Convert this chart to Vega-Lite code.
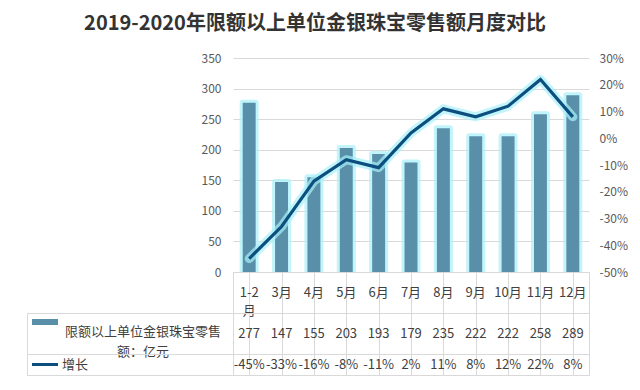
{
  "$schema": "https://vega.github.io/schema/vega-lite/v6.json",
  "background": "white",
  "padding": {"left": 26, "top": 14, "right": 5, "bottom": 5},
  "title": {"text": "2019-2020年限额以上单位金银珠宝零售额月度对比", "fontSize": 20, "fontWeight": "bold", "color": "#333333", "anchor": "middle", "offset": 18, "dx": -12, "font": "Noto Sans CJK SC"},
  "config": {
    "font": "Noto Sans CJK SC",
    "locale": {"number": {"decimal": ".", "thousands": ",", "grouping": [3], "currency": ["$", ""], "minus": "-"}}
  },
  "datasets": {
    "d": [
      {"m": "1-2月", "v": 277, "g": -0.45},
      {"m": "3月", "v": 147, "g": -0.33},
      {"m": "4月", "v": 155, "g": -0.16},
      {"m": "5月", "v": 203, "g": -0.08},
      {"m": "6月", "v": 193, "g": -0.11},
      {"m": "7月", "v": 179, "g": 0.02},
      {"m": "8月", "v": 235, "g": 0.11},
      {"m": "9月", "v": 222, "g": 0.08},
      {"m": "10月", "v": 222, "g": 0.12},
      {"m": "11月", "v": 258, "g": 0.22},
      {"m": "12月", "v": 289, "g": 0.08}
    ]
  },
  "columns": 2,
  "spacing": 0,
  "bounds": "flush",
  "align": "each",
  "concat": [
    {
      "width": 206, "height": 214, "view": {"stroke": null},
      "data": {"values": [{}]},
      "mark": {"type": "text", "text": ""}
    },
    {
      "width": 356, "height": 214, "view": {"stroke": null},
      "data": {"name": "d"},
      "encoding": {
        "x": {"field": "m", "type": "nominal", "sort": null, "scale": {"paddingInner": 0, "paddingOuter": 0}, "axis": null}
      },
      "layer": [
        {
          "encoding": {
            "y": {"field": "v", "type": "quantitative", "scale": {"domain": [0, 350], "nice": false},
              "axis": {"values": [0, 50, 100, 150, 200, 250, 300, 350], "title": null, "domain": false, "ticks": false, "labelPadding": 12, "labelColor": "#595959", "labelFontSize": 12, "grid": true, "gridColor": "#d9d9d9"}}
          },
          "layer": [
            {"mark": {"type": "bar", "width": {"band": 0.4}, "fill": "#b2f2fb", "stroke": "#b2f2fb", "strokeWidth": 6, "strokeJoin": "round", "opacity": 0.8, "clip": true}},
            {"mark": {"type": "bar", "width": {"band": 0.4}, "fill": "#5a8fa9"}}
          ]
        },
        {
          "encoding": {
            "y": {"field": "g", "type": "quantitative", "scale": {"domain": [-0.5, 0.3], "nice": false, "zero": false},
              "axis": {"orient": "right", "values": [-0.5, -0.4, -0.3, -0.2, -0.1, 0, 0.1, 0.2, 0.3], "format": ".0%", "title": null, "domain": false, "ticks": false, "grid": false, "labelPadding": 10, "labelColor": "#595959", "labelFontSize": 12}}
          },
          "layer": [
            {"mark": {"type": "line", "stroke": "#a6f0f9", "strokeWidth": 9, "opacity": 0.7, "strokeJoin": "round", "strokeCap": "round"}},
            {"mark": {"type": "line", "stroke": "#0c4f7f", "strokeWidth": 3.2, "strokeJoin": "miter"}}
          ]
        }
      ],
      "resolve": {"scale": {"y": "independent"}}
    },
    {
      "width": 206, "height": 41, "view": {"stroke": null},
      "data": {"values": [{}]},
      "mark": {"type": "text", "text": ""}
    },
    {
      "width": 356, "height": 41, "view": {"stroke": "#d9d9d9"},
      "data": {"name": "d"},
      "transform": [{"calculate": "replace(datum.m, '-2', '-2\\n')", "as": "lbl"}],
      "mark": {"type": "text", "lineBreak": "\n", "lineHeight": 18, "fontSize": 13, "color": "#404040"},
      "encoding": {
        "x": {"field": "m", "type": "nominal", "sort": null, "scale": {"paddingInner": 0, "paddingOuter": 0},
          "axis": {"grid": true, "bandPosition": 0, "labels": false, "ticks": false, "domain": false, "title": null, "gridColor": "#d9d9d9"}},
        "text": {"field": "lbl"}
      }
    },
    {
      "width": 206, "height": 41, "view": {"stroke": "#d9d9d9"},
      "data": {"values": [{}]},
      "layer": [
        {
          "mark": {"type": "rule", "color": "#5a8fa9", "strokeWidth": 6, "strokeCap": "butt"},
          "encoding": {
            "x": {"datum": 5, "type": "quantitative", "scale": {"domain": [0, 206], "nice": false, "zero": false}, "axis": null},
            "x2": {"datum": 31},
            "y": {"datum": 9, "type": "quantitative", "scale": {"domain": [0, 41], "reverse": true, "nice": false}, "axis": null}
          }
        },
        {
          "mark": {"type": "text", "align": "center", "baseline": "middle", "lineHeight": 20, "fontSize": 13, "color": "#404040", "text": ["限额以上单位金银珠宝零售", "额：亿元"]},
          "encoding": {
            "x": {"datum": 116, "type": "quantitative", "scale": {"domain": [0, 206], "nice": false, "zero": false}, "axis": null},
            "y": {"datum": 19, "type": "quantitative", "scale": {"domain": [0, 41], "reverse": true, "nice": false}, "axis": null}
          }
        }
      ]
    },
    {
      "width": 356, "height": 41, "view": {"stroke": "#d9d9d9"},
      "data": {"name": "d"},
      "mark": {"type": "text", "fontSize": 13, "color": "#404040"},
      "encoding": {
        "x": {"field": "m", "type": "nominal", "sort": null, "scale": {"paddingInner": 0, "paddingOuter": 0},
          "axis": {"grid": true, "bandPosition": 0, "labels": false, "ticks": false, "domain": false, "title": null, "gridColor": "#d9d9d9"}},
        "text": {"field": "v", "type": "quantitative"}
      }
    },
    {
      "width": 206, "height": 21, "view": {"stroke": "#d9d9d9"},
      "data": {"values": [{}]},
      "layer": [
        {
          "mark": {"type": "rule", "color": "#0c4f7f", "strokeWidth": 3, "strokeCap": "butt"},
          "encoding": {
            "x": {"datum": 5, "type": "quantitative", "scale": {"domain": [0, 206], "nice": false, "zero": false}, "axis": null},
            "x2": {"datum": 31},
            "y": {"datum": 10.5, "type": "quantitative", "scale": {"domain": [0, 21], "reverse": true, "nice": false}, "axis": null}
          }
        },
        {
          "mark": {"type": "text", "align": "left", "baseline": "middle", "fontSize": 13, "color": "#404040", "text": "增长"},
          "encoding": {
            "x": {"datum": 35, "type": "quantitative", "scale": {"domain": [0, 206], "nice": false, "zero": false}, "axis": null},
            "y": {"datum": 10.5, "type": "quantitative", "scale": {"domain": [0, 21], "reverse": true, "nice": false}, "axis": null}
          }
        }
      ]
    },
    {
      "width": 356, "height": 21, "view": {"stroke": "#d9d9d9"},
      "data": {"name": "d"},
      "mark": {"type": "text", "fontSize": 13, "color": "#404040"},
      "encoding": {
        "x": {"field": "m", "type": "nominal", "sort": null, "scale": {"paddingInner": 0, "paddingOuter": 0},
          "axis": {"grid": true, "bandPosition": 0, "labels": false, "ticks": false, "domain": false, "title": null, "gridColor": "#d9d9d9"}},
        "text": {"field": "g", "type": "quantitative", "format": ".0%"}
      }
    }
  ]
}
